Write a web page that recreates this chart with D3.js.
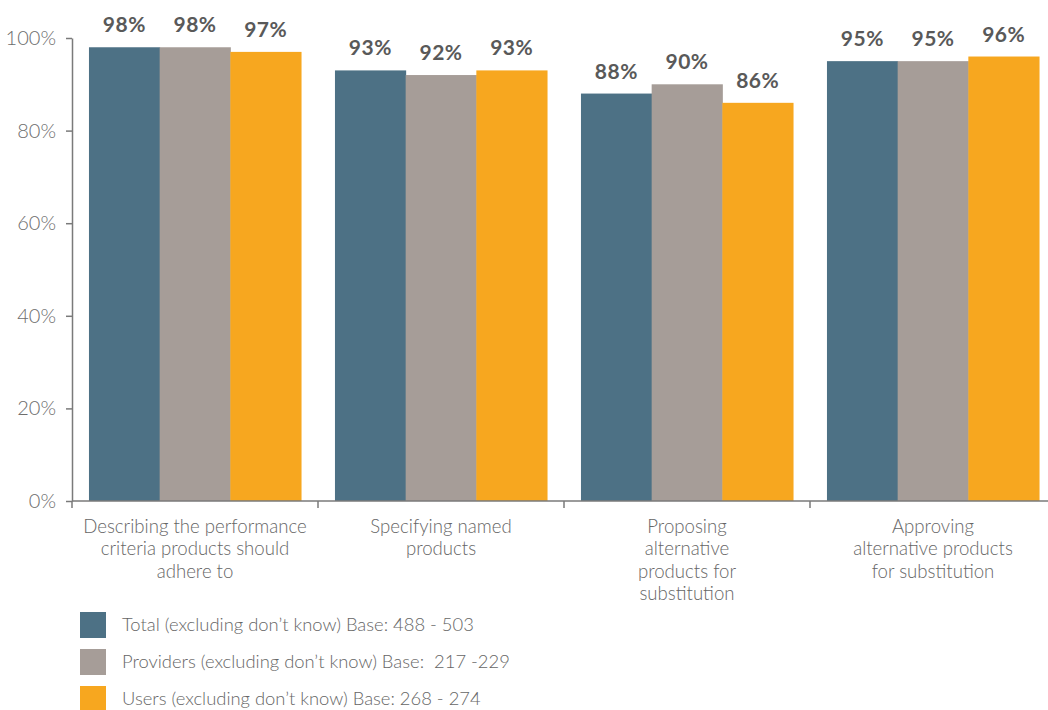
<!DOCTYPE html>
<html>
<head>
<meta charset="utf-8">
<script src="https://cdn.jsdelivr.net/npm/d3@7"></script>
<style>
  html, body { margin: 0; padding: 0; background: #fff; }
  svg { display: block; font-family: "Lato", "Open Sans", sans-serif; }
</style>
</head>
<body>
<svg id="chart" width="1048" height="710"></svg>
<script>
// Activity categories (each label split into lines)
const categories = [
  ["Describing the performance", "criteria products should", "adhere to"],
  ["Specifying named", "products"],
  ["Proposing", "alternative", "products for", "substitution"],
  ["Approving", "alternative products", "for substitution"]
];

// Share of respondents, per group, in category order
const totalValues     = [98, 93, 88, 95];
const providersValues = [98, 92, 90, 95];
const usersValues     = [97, 93, 86, 96];

const seriesNames = [
  "Total (excluding don\u2019t know) Base: 488 - 503",
  "Providers (excluding don\u2019t know) Base:  217 -229",
  "Users (excluding don\u2019t know) Base: 268 - 274"
];
const seriesColors = ["#4d7185", "#a69d98", "#f7a71f"];
const yTicks = [0, 20, 40, 60, 80, 100];

const series = [totalValues, providersValues, usersValues];

const svg = d3.select("#chart");
const margin = { left: 72, top: 38, bottom: 501 };
const bandW = 246;

const x0 = d3.scaleBand()
  .domain(d3.range(categories.length))
  .range([margin.left, margin.left + bandW * categories.length])
  .paddingInner(0).paddingOuter(0);

const x1 = d3.scaleBand()
  .domain(d3.range(series.length))
  .range([0, x0.bandwidth()])
  .paddingOuter(0.24).paddingInner(0);

const y = d3.scaleLinear().domain([0, 100]).range([margin.bottom, margin.top]);

const axisColor = "#7a7a7a";

// Bars
const groups = svg.append("g").selectAll("g")
  .data(categories.map((c, i) => i))
  .join("g")
  .attr("transform", i => `translate(${x0(i)},0)`);

groups.selectAll("rect")
  .data(i => series.map((s, k) => ({ k, v: s[i] })))
  .join("rect")
  .attr("x", d => x1(d.k))
  .attr("width", x1.bandwidth() + 0.5)
  .attr("y", d => y(d.v))
  .attr("height", d => y(0) - y(d.v))
  .attr("fill", d => seriesColors[d.k]);

// Value labels
groups.selectAll("text.val")
  .data(i => series.map((s, k) => ({ k, v: s[i] })))
  .join("text")
  .attr("class", "val")
  .attr("x", d => x1(d.k) + x1.bandwidth() / 2)
  .attr("y", d => y(d.v) - 15)
  .attr("text-anchor", "middle")
  .attr("font-size", 21)
  .attr("font-weight", 700)
  .attr("letter-spacing", 0.5)
  .attr("fill", "#595959")
  .text(d => d.v + "%");

// Y axis
const yAxis = svg.append("g")
  .attr("transform", `translate(${margin.left},0)`)
  .call(d3.axisLeft(y).tickValues(yTicks).tickFormat(d => d + "%").tickSize(6).tickSizeOuter(0));
yAxis.select(".domain").attr("stroke", axisColor).attr("stroke-width", 1.5);
yAxis.selectAll(".tick line").attr("stroke", axisColor).attr("stroke-width", 1.5);
yAxis.selectAll(".tick text")
  .attr("x", -16)
  .attr("font-size", 20)
  .attr("font-weight", 300)
  .attr("fill", "#6d6d6d")
  .attr("font-family", "Lato, sans-serif");

// X axis line with ticks at the category boundaries
const xAxisG = svg.append("g").attr("transform", `translate(0,${margin.bottom})`);
xAxisG.append("line")
  .attr("x1", margin.left).attr("x2", 1048)
  .attr("y1", 0).attr("y2", 0)
  .attr("stroke", axisColor).attr("stroke-width", 1.5);
xAxisG.selectAll("line.tk")
  .data(d3.range(categories.length))
  .join("line")
  .attr("class", "tk")
  .attr("x1", i => x0(i)).attr("x2", i => x0(i))
  .attr("y1", 0).attr("y2", 7)
  .attr("stroke", axisColor).attr("stroke-width", 1.5);

// Category labels, one text element per line
const catLines = categories.flatMap((c, i) =>
  c.map((line, j) => ({ line, i, j })));
svg.append("g").selectAll("text")
  .data(catLines)
  .join("text")
  .attr("text-anchor", "middle")
  .attr("x", d => x0(d.i) + x0.bandwidth() / 2)
  .attr("y", d => 533 + d.j * 22.4)
  .attr("font-size", 18.6)
  .attr("font-weight", 300)
  .attr("fill", "#666")
  .text(d => d.line);

// Legend
const legend = svg.append("g").selectAll("g")
  .data(seriesNames.map((n, k) => ({ n, k })))
  .join("g")
  .attr("transform", d => `translate(80,${612 + d.k * 37})`);
legend.append("rect")
  .attr("width", 26).attr("height", 26)
  .attr("fill", d => seriesColors[d.k]);
legend.append("text")
  .attr("x", 42).attr("y", 13)
  .attr("dy", "0.35em")
  .attr("font-size", 18.4)
  .attr("font-weight", 300)
  .attr("fill", "#666")
  .style("white-space", "pre")
  .text(d => d.n);
</script>
</body>
</html>
